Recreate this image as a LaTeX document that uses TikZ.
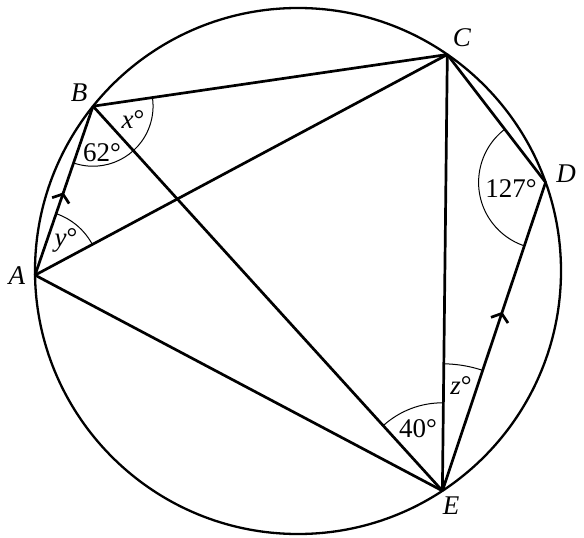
\documentclass[tikz,border=0pt]{standalone}
\usepackage{fontspec}
\setmainfont{Liberation Serif}
\usetikzlibrary{angles,decorations.markings,arrows.meta,positioning}

\tikzset{
  chord/.style={line width=1.35pt},
  anglearc/.style={draw,line width=0.5pt},
  lbl/.style={font=\fontsize{13.5}{16}\selectfont},
  parmark/.style={postaction={decorate,decoration={markings,
      mark=at position #1 with {\arrow{Straight Barb[length=3.5pt,width=9pt]}}}}}
}

\begin{document}
\begin{tikzpicture}[x=0.5pt,y=0.5pt]
\useasboundingbox (0,0) rectangle (584,537);

% circle and the five points on it
\coordinate (O) at (298,266);
\draw[line width=1.15pt] (O) circle[radius=263];
\coordinate (A) at ([shift={(O)}]180.9:263);
\coordinate (B) at ([shift={(O)}]141.2:263);
\coordinate (C) at ([shift={(O)}]55.4:263);
\coordinate (D) at ([shift={(O)}]19.7:263);
\coordinate (E) at ([shift={(O)}]-56.7:263);

% chords
\draw[chord,parmark=0.49] (A) -- (B);
\draw[chord,parmark=0.58] (E) -- (D);
\draw[chord] (B) -- (C);
\draw[chord] (A) -- (C);
\draw[chord] (B) -- (E);
\draw[chord] (A) -- (E);
\draw[chord] (C) -- (E);
\draw[chord] (C) -- (D);

% angle arcs
\path pic[anglearc,angle radius=30pt] {angle=A--B--C};
\path pic[anglearc,angle radius=32.5pt] {angle=C--A--B};
\path pic[anglearc,angle radius=33.5pt] {angle=C--D--E};
\path pic[anglearc,angle radius=44pt] {angle=C--E--B};
\path pic[anglearc,angle radius=63.5pt] {angle=D--E--C};

% angle labels
\node[lbl] (angx) at (133,417) {\textit{x}°};
\node[lbl] (ang62) at (102,384) {62°};
\node[lbl] (angy) at (66,297) {\textit{y}°};
\node[lbl] (ang127) at (511,348) {127°};
\node[lbl] (ang40) at (418,108) {40°};
\node[lbl] (angz) at (461,151) {\textit{z}°};

% point labels
\node[lbl] (labA) at (17,261) {\textit{A}};
\node[lbl] (labB) at (79,444) {\textit{B}};
\node[lbl] (labC) at (462,499) {\textit{C}};
\node[lbl] (labD) at (566,363) {\textit{D}};
\node[lbl] (labE) at (451,31) {\textit{E}};
\end{tikzpicture}
\end{document}
